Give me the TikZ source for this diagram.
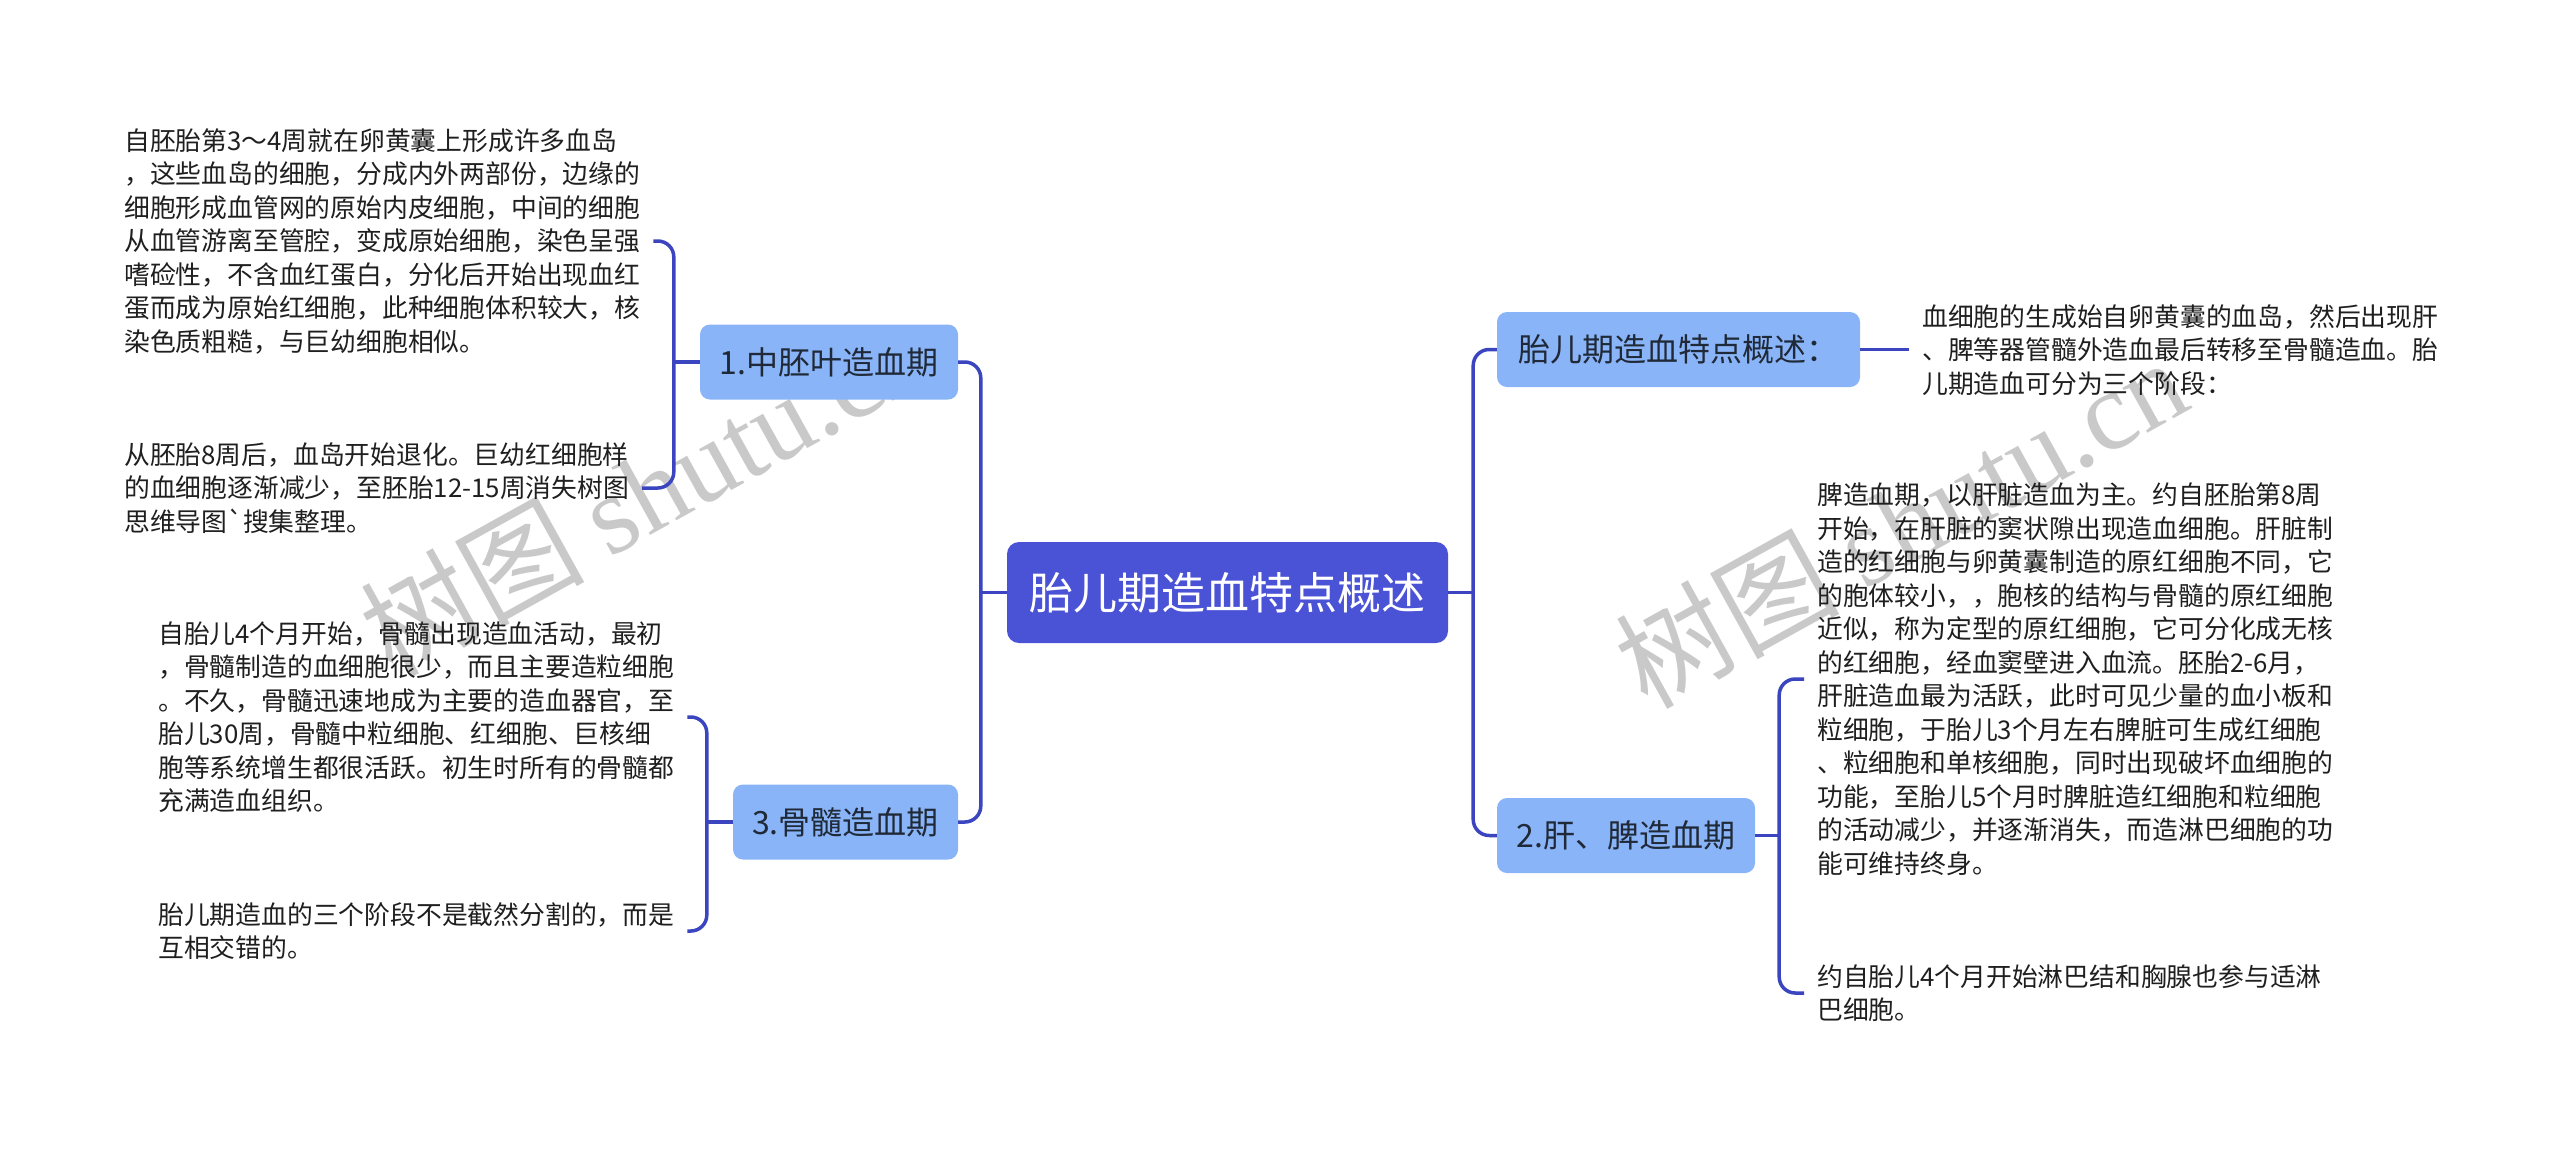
\documentclass[tikz,border=0pt]{standalone}
\usepackage{fontspec}
\setmainfont{Noto Sans CJK SC}
\newfontfamily\rawcjk{Noto Sans CJK SC}
\newfontfamily\wmserif{Liberation Serif}
\usetikzlibrary{calc}
\definecolor{linec}{HTML}{3B45C0}
\definecolor{rootc}{HTML}{4A52D6}
\definecolor{branchc}{HTML}{8AB4F8}
\definecolor{txtc}{HTML}{1F1F1F}
\definecolor{btxt}{HTML}{1F2937}
\definecolor{wmc}{HTML}{C9C9C9}
\begin{document}
\begin{tikzpicture}[x=1pt,y=-1pt,
  conn/.style={draw=linec, line width=3.5pt, rounded corners=16pt},
  rootbox/.style={fill=rootc, rounded corners=12pt, text=white, font=\fontsize{44}{50}\selectfont, minimum width=441pt, minimum height=101pt, inner sep=0pt},
  branchbox/.style={fill=branchc, rounded corners=10pt, text=btxt, font=\fontsize{32}{38}\selectfont, minimum height=75pt, inner sep=0pt},
  leaf/.style={align=left, text=txtc, font=\fontsize{25.8}{33.5}\selectfont, inner xsep=13pt, inner ysep=4pt},
  wmark/.style={rotate=29, text=wmc, font=\fontsize{112}{120}\selectfont, inner sep=0pt},
]
\useasboundingbox[fill=white] (0,0) rectangle (2560,1149);

% watermarks
\node[wmark] (wm1) at (645,490) {树图 {\wmserif shutu.cn}};
\node[wmark] (wm2) at (1900,522) {树图 {\wmserif shutu.cn}};

% root and branches
\node[rootbox] (root) at (1227.5,592.5) {胎儿期造血特点概述};
\node[branchbox, minimum width=258pt] (b1) at (829,362) {1.中胚叶造血期};
\node[branchbox, minimum width=225pt] (b3) at (845.5,822) {3.骨髓造血期};
\node[branchbox, minimum width=363pt] (r1) at (1678.5,349.5) {胎儿期造血特点概述：};
\node[branchbox, minimum width=258pt] (r2) at (1626,835.5) {2.肝、脾造血期};

% leaves left
\node[leaf, anchor=west] (l1a) at (111,241) {自胚胎第3～4周就在卵黄囊上形成许多血岛\\，这些血岛的细胞，分成内外两部份，边缘的\\细胞形成血管网的原始内皮细胞，中间的细胞\\从血管游离至管腔，变成原始细胞，染色呈强\\嗜硷性，不含血红蛋白，分化后开始出现血红\\蛋而成为原始红细胞，此种细胞体积较大，核\\染色质粗糙，与巨幼细胞相似。};
\node[leaf, anchor=west] (l1b) at (111,488) {从胚胎8周后，血岛开始退化。巨幼红细胞样\\的血细胞逐渐减少，至胚胎12-15周消失树图\\思维导图{\rawcjk `}搜集整理。};
\node[leaf, anchor=west] (l3a) at (145,717) {自胎儿4个月开始，骨髓出现造血活动，最初\\，骨髓制造的血细胞很少，而且主要造粒细胞\\。不久，骨髓迅速地成为主要的造血器官，至\\胎儿30周，骨髓中粒细胞、红细胞、巨核细\\胞等系统增生都很活跃。初生时所有的骨髓都\\充满造血组织。};
\node[leaf, anchor=west] (l3b) at (145,931) {胎儿期造血的三个阶段不是截然分割的，而是\\互相交错的。};

% leaves right
\node[leaf, anchor=west] (lr1) at (1909,350) {血细胞的生成始自卵黄囊的血岛，然后出现肝\\、脾等器管髓外造血最后转移至骨髓造血。胎\\儿期造血可分为三个阶段：};
\node[leaf, anchor=west] (lr2a) at (1804,679) {脾造血期，以肝脏造血为主。约自胚胎第8周\\开始，在肝脏的窦状隙出现造血细胞。肝脏制\\造的红细胞与卵黄囊制造的原红细胞不同，它\\的胞体较小，，胞核的结构与骨髓的原红细胞\\近似，称为定型的原红细胞，它可分化成无核\\的红细胞，经血窦壁进入血流。胚胎2-6月，\\肝脏造血最为活跃，此时可见少量的血小板和\\粒细胞，于胎儿3个月左右脾脏可生成红细胞\\、粒细胞和单核细胞，同时出现破坏血细胞的\\功能，至胎儿5个月时脾脏造红细胞和粒细胞\\的活动减少，并逐渐消失，而造淋巴细胞的功\\能可维持终身。};
\node[leaf, anchor=west] (lr2b) at (1804,993) {约自胎儿4个月开始淋巴结和胸腺也参与适淋\\巴细胞。};

% junction coordinates
\coordinate (jL) at ($(root.west)+(-26,0)$);
\coordinate (jR) at ($(root.east)+(25,0)$);
\coordinate (k1) at ($(b1.west)+(-26,0)$);
\coordinate (k3) at ($(b3.west)+(-26,0)$);
\coordinate (k2) at ($(r2.east)+(24,0)$);

% connectors
\draw[conn] (root.west) -- (jL);
\draw[conn] (b1.east) -| (jL) |- (b3.east);
\draw[conn] (root.east) -- (jR);
\draw[conn] (r1.west) -| (jR) |- (r2.west);

\draw[conn] (b1.west) -- (k1);
\draw[conn] (l1a.east) -| (k1) |- (l1b.east);
\draw[conn] (b3.west) -- (k3);
\draw[conn] (l3a.east) -| (k3) |- (l3b.east);

\draw[conn] (r1.east) -- (r1.east -| lr1.west);
\draw[conn] (r2.east) -- (k2);
\draw[conn] (lr2a.west) -| (k2) |- (lr2b.west);
\end{tikzpicture}
\end{document}
